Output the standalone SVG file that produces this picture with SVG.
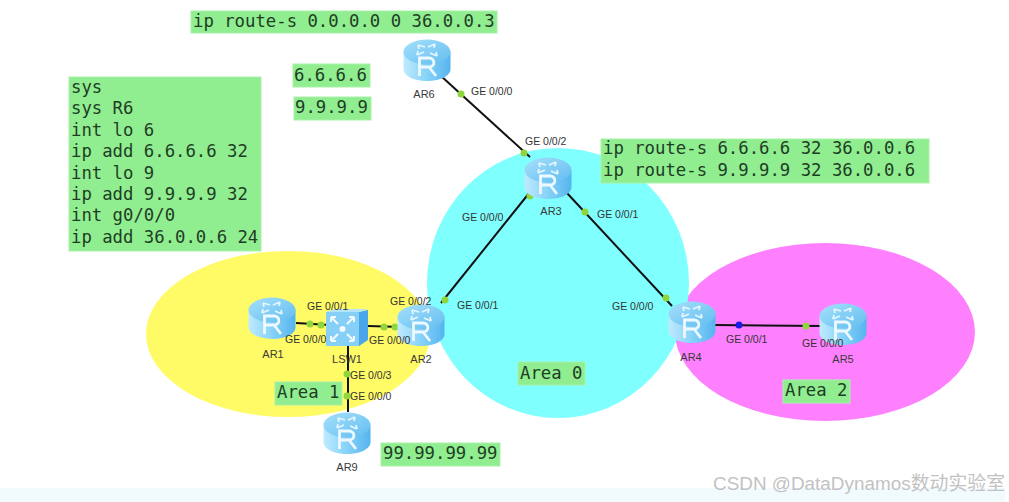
<svg xmlns="http://www.w3.org/2000/svg" width="1009" height="502" viewBox="0 0 1009 502">
<style>
.box{fill:#90ee90;stroke:#a8f2a8;stroke-width:1}
.m{font-family:"DejaVu Sans Mono","Liberation Mono",monospace;font-size:17.3px;fill:#1f3d25}
.l{font-family:"Liberation Sans",Arial,sans-serif;font-size:10.5px;fill:#333}
.n{font-family:"Liberation Sans",Arial,sans-serif;font-size:11px;fill:#3a3a3a;text-anchor:middle}
.c{stroke:#111;stroke-width:2;fill:none}
.d{fill:#8fd63c}
</style>
<defs>
<linearGradient id="rg" x1="0" x2="1" y1="0" y2="0"><stop offset="0" stop-color="#bfeafd"/><stop offset=".5" stop-color="#86d2f9"/><stop offset="1" stop-color="#55b4ee"/></linearGradient>
<linearGradient id="rt" x1="0" x2="1" y1="0" y2="1"><stop offset="0" stop-color="#a6e0fb"/><stop offset="1" stop-color="#62bdf0"/></linearGradient>
<g id="router">
<path d="M-23.500 -8V9C-23.500 16 -13 21 0 21S23.500 16 23.500 9V-8Z" fill="url(#rg)"/>
<ellipse cx="0" cy="-8" rx="23.500" ry="12.500" fill="url(#rt)"/>
<path d="M-9 -15L-2 -13M-9 -15L-8 -11M8 -16L1 -13M8 -16L7 -12M-10 -5L-3 -8M-10 -5L-9 -9M10 -4L3 -7M10 -4L9 -8" stroke="#e4f6fe" stroke-width="1.800" fill="none"/>
<path d="M-7.500 16V-2H2C8.500 -2 8.500 7 2 7H-7.500M2 7L9 16" stroke="#eef9ff" stroke-width="2.800" fill="none"/>
</g>
</defs>
<rect width="1009" height="502" fill="#fff"/>
<rect x="0" y="488" width="1005" height="14" fill="#f1fbfe"/>
<ellipse cx="288" cy="334" rx="142" ry="83" fill="#fffb66"/>
<ellipse cx="825" cy="332" rx="150" ry="89" fill="#ff80ff"/>
<ellipse cx="558" cy="283" rx="131" ry="135" fill="#80ffff"/>
<g id="connectors">
<path class="c" d="M441 76L530 157"/>
<path class="c" d="M530 192L441 303"/>
<path class="c" d="M566 192L672 306"/>
<path class="c" d="M296 323L330 325"/>
<path class="c" d="M368 326L402 327"/>
<path class="c" d="M348 345V412"/>
<path class="c" d="M714 325L822 326"/>
<circle class="d" cx="461" cy="94" r="3.500"/><circle class="d" cx="524" cy="153" r="3.500"/>
<circle class="d" cx="530" cy="196" r="3.500"/><circle class="d" cx="445" cy="300" r="3.500"/>
<circle class="d" cx="585" cy="212" r="3.500"/><circle class="d" cx="666" cy="298" r="3.500"/>
<circle class="d" cx="310" cy="324" r="3.500"/><circle class="d" cx="321" cy="325" r="3.500"/>
<circle class="d" cx="384" cy="327" r="3.500"/><circle class="d" cx="395" cy="327" r="3.500"/>
<circle class="d" cx="347" cy="374" r="3.500"/><circle class="d" cx="347" cy="396" r="3.500"/>
<circle cx="739" cy="325" r="3.500" fill="#1a1ae6"/><circle class="d" cx="806" cy="326" r="3.500"/>
</g>
<g id="AR6"><use href="#router" x="427" y="60"/><text class="n" x="424" y="98">AR6</text></g>
<g id="AR3"><use href="#router" x="548" y="178"/><text class="n" x="551" y="215">AR3</text></g>
<g id="AR1"><use href="#router" x="272" y="318"/><text class="n" x="273" y="358">AR1</text></g>
<g id="AR2"><use href="#router" x="421" y="325"/><text class="n" x="421" y="363">AR2</text></g>
<g id="AR9"><use href="#router" x="347" y="433"/><text class="n" x="347" y="471">AR9</text></g>
<g id="AR4"><use href="#router" x="692" y="322"/><text class="n" x="691" y="361">AR4</text></g>
<g id="AR5"><use href="#router" x="843" y="324"/><text class="n" x="843" y="363">AR5</text></g>
<g id="LSW1">
<rect x="326" y="312" width="33" height="34" fill="#86d0f8"/>
<path d="M359 312L368 310V340L359 346Z" fill="#4aa6ea"/>
<path d="M326 312L335 309H368L359 312Z" fill="#b4e4fb"/>
<path d="M331 317L338 324M331 317V322M331 317H336M331 341L338 334M331 341V336M331 341H336M354 317L347 324M354 317V322M354 317H349M354 341L347 334M354 341V336M354 341H349" stroke="#f0faff" stroke-width="2" fill="none"/>
<circle cx="342.500" cy="329" r="3" fill="#f0faff"/>
<text class="n" x="347" y="363">LSW1</text>
</g>
<g id="labels">
<text class="l" x="471" y="95">GE 0/0/0</text>
<text class="l" x="525" y="145">GE 0/0/2</text>
<text class="l" x="462" y="221">GE 0/0/0</text>
<text class="l" x="597" y="218">GE 0/0/1</text>
<text class="l" x="457" y="309">GE 0/0/1</text>
<text class="l" x="390" y="305">GE 0/0/2</text>
<text class="l" x="307" y="310">GE 0/0/1</text>
<text class="l" x="285" y="343">GE 0/0/0</text>
<text class="l" x="369" y="344">GE 0/0/0</text>
<text class="l" x="350" y="379">GE 0/0/3</text>
<text class="l" x="350" y="400">GE 0/0/0</text>
<text class="l" x="612" y="310">GE 0/0/0</text>
<text class="l" x="726" y="343">GE 0/0/1</text>
<text class="l" x="802" y="347">GE 0/0/0</text>
</g>
<g id="notes">
<rect class="box" x="191" y="11" width="306" height="22"/><text class="m" x="193" y="27">ip route-s 0.0.0.0 0 36.0.0.3</text>
<rect class="box" x="293" y="64" width="77" height="23"/><text class="m" x="294" y="81">6.6.6.6</text>
<rect class="box" x="294" y="97" width="77" height="23"/><text class="m" x="295" y="113">9.9.9.9</text>
<rect class="box" x="69" y="77" width="192" height="174"/>
<text class="m"><tspan x="71" y="93">sys</tspan><tspan x="71" y="114.400">sys R6</tspan><tspan x="71" y="135.800">int lo 6</tspan><tspan x="71" y="157.200">ip add 6.6.6.6 32</tspan><tspan x="71" y="178.600">int lo 9</tspan><tspan x="71" y="200">ip add 9.9.9.9 32</tspan><tspan x="71" y="221.400">int g0/0/0</tspan><tspan x="71" y="242.800">ip add 36.0.0.6 24</tspan></text>
<rect class="box" x="601" y="139" width="328" height="44"/>
<text class="m"><tspan x="603" y="154">ip route-s 6.6.6.6 32 36.0.0.6</tspan><tspan x="603" y="176">ip route-s 9.9.9.9 32 36.0.0.6</tspan></text>
<rect class="box" x="275" y="382" width="67" height="23"/><text class="m" x="277" y="398">Area 1</text>
<rect class="box" x="518" y="362" width="67" height="23"/><text class="m" x="520" y="379">Area 0</text>
<rect class="box" x="783" y="380" width="67" height="23"/><text class="m" x="785" y="396">Area 2</text>
<rect class="box" x="381" y="443" width="119" height="23"/><text class="m" x="383" y="459">99.99.99.99</text>
</g>
<text x="713" y="490" font-family="'Liberation Sans','Noto Sans CJK SC',sans-serif" font-size="18.9px" fill="#c2c2c2">CSDN @DataDynamos数动实验室</text>
</svg>
